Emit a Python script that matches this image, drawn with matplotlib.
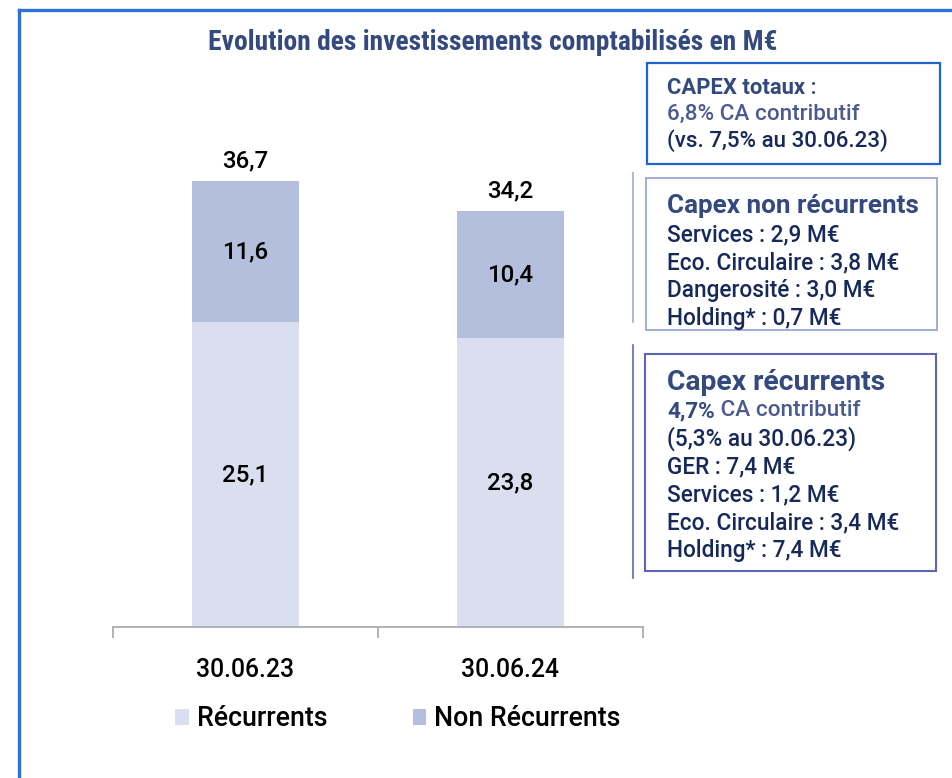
import matplotlib
matplotlib.use("Agg")
import matplotlib.pyplot as plt
from matplotlib import font_manager
from matplotlib.patches import Rectangle
from matplotlib.lines import Line2D

# ---------------- data ----------------
categories = ["30.06.23", "30.06.24"]
recurrents = [25.1, 23.8]
non_recurrents = [11.6, 10.4]
totals = [36.7, 34.2]
series_names = ["Récurrents", "Non Récurrents"]
title = "Evolution des investissements comptabilisés en M€"

box1_title = "CAPEX totaux"
box1_lines = ["6,8% CA contributif", "(vs. 7,5% au 30.06.23)"]
box2_title = "Capex non récurrents"
box2_lines = ["Services : 2,9 M€", "Eco. Circulaire : 3,8 M€",
              "Dangerosité : 3,0 M€", "Holding* : 0,7 M€"]
box3_title = "Capex récurrents"
box3_pct = "4,7%"
box3_lines = ["(5,3% au 30.06.23)", "GER : 7,4 M€", "Services : 1,2 M€",
              "Eco. Circulaire : 3,4 M€", "Holding* : 7,4 M€"]

# ---------------- style ----------------
avail = {f.name for f in font_manager.fontManager.ttflist}
BODY = "Roboto" if "Roboto" in avail else "DejaVu Sans"
COND = "Roboto Condensed" if "Roboto Condensed" in avail else BODY
plt.rcParams['font.family'] = [BODY, 'DejaVu Sans']
plt.rcParams['font.weight'] = 'medium'
MW = 'medium'

C_REC = "#D9DFEF"
C_NREC = "#B4BFDD"
C_TITLE = "#344A7E"
C_DARK = "#16295A"
C_MID = "#4B5B8E"

W, H = 953, 778
fig = plt.figure(figsize=(W / 100, H / 100), dpi=100)


def fx(x):
    return x / W


def fy(y):
    return 1 - y / H


# outer frame
fig.add_artist(Line2D([fx(19), fx(19)], [fy(10), fy(778)], color="#2F6FD8", lw=2.4))
fig.add_artist(Line2D([fx(19), fx(953)], [fy(10), fy(10)], color="#2F6FD8", lw=2.4))

# ---------------- bar chart ----------------
ax = fig.add_axes([fx(113), fy(627), (643 - 113) / W, (627 - 60) / H])
px_per_unit = (627 - 181) / totals[0]
ax.set_ylim(0, (627 - 60) / px_per_unit)
ax.set_xlim(-0.5, 1.5)
x = list(range(len(categories)))
bw = 107 / 265
ax.bar(x, recurrents, width=bw, color=C_REC, label=series_names[0])
ax.bar(x, non_recurrents, width=bw, bottom=recurrents, color=C_NREC, label=series_names[1])

VS = 17.3
for i in x:
    ax.text(i, recurrents[i] / 2, f"{recurrents[i]:.1f}".replace(".", ","),
            ha="center", va="center", fontsize=VS, color="black", fontweight=MW)
    ax.text(i, recurrents[i] + non_recurrents[i] / 2,
            f"{non_recurrents[i]:.1f}".replace(".", ","),
            ha="center", va="center", fontsize=VS, color="black", fontweight=MW)
    ax.text(i, totals[i] + 0.7, f"{totals[i]:.1f}".replace(".", ","),
            ha="center", va="bottom", fontsize=VS, color="black", fontweight=MW)

for s in ["top", "left", "right"]:
    ax.spines[s].set_visible(False)
ax.spines["bottom"].set_color("#A6A6A6")
ax.spines["bottom"].set_linewidth(1.2)
ax.set_yticks([])
ax.set_xticks(x)
ax.set_xticklabels(categories, fontsize=17.8, color="black", fontweight=MW)
ax.tick_params(axis="x", which="major", length=0, pad=22)
ax.set_xticks([-0.5, 0.5, 1.5], minor=True)
ax.tick_params(axis="x", which="minor", length=8, color="#A6A6A6", width=1.2)
ax.patch.set_alpha(0)

leg = fig.legend(loc="center", bbox_to_anchor=(fx(398), fy(719)), ncol=2,
                 frameon=False, prop={'size': 19.3, 'weight': MW},
                 handlelength=0.5, handleheight=0.5,
                 handletextpad=0.3, columnspacing=3.2)

fig.text(fx(493), fy(42), title, ha="center", va="center", family=[COND, 'DejaVu Sans'],
         fontsize=19.8, fontweight="bold", color=C_TITLE)

# ---------------- right boxes ----------------
def box(x0, y0, x1, y1, color, lw):
    fig.add_artist(Rectangle((fx(x0), fy(y1)), fx(x1) - fx(x0), fy(y0) - fy(y1),
                             transform=fig.transFigure, fill=False,
                             edgecolor=color, linewidth=lw))


box(647, 63, 940, 164, "#1F63D0", 1.6)
box(646, 178, 937, 330, "#98A8D6", 1.3)
box(645, 354, 936, 571, "#5D64B5", 1.5)
fig.add_artist(Line2D([fx(633), fx(633)], [fy(173), fy(322)], color="#A0AAD0", lw=1.2))
fig.add_artist(Line2D([fx(633), fx(633)], [fy(345), fy(578)], color="#6068B0", lw=1.2))

renderer = fig.canvas.get_renderer()


def text_pair(x0, y, bold_part, rest, size, c1, c2, size2=None):
    t = fig.text(fx(x0), fy(y), bold_part, ha="left", va="center",
                 fontsize=size, fontweight="bold", color=c1)
    bb = t.get_window_extent(renderer=renderer)
    fig.text(bb.x1 / W, fy(y), rest, ha="left", va="center",
             fontsize=size2 or size, color=c2, fontweight=MW)


BS = 16.3
# box 1
text_pair(667, 88, box1_title, " :", 15.8, C_TITLE, C_TITLE, 16.2)
fig.text(fx(667), fy(114), box1_lines[0], ha="left", va="center", fontsize=16.2,
         color=C_MID, fontweight=MW)
fig.text(fx(667), fy(141), box1_lines[1], ha="left", va="center", fontsize=16.1,
         color=C_DARK, fontweight=MW)

# box 2
fig.text(fx(667), fy(206), box2_title, ha="left", va="center", fontsize=18.7,
         fontweight="bold", color=C_TITLE)
for k, line in enumerate(box2_lines):
    fig.text(fx(667), fy(235 + 27.7 * k), line, ha="left", va="center",
             fontsize=BS, color=C_DARK, fontweight=MW)

# box 3
fig.text(fx(667), fy(382), box3_title, ha="left", va="center", fontsize=20.3,
         fontweight="bold", color=C_TITLE)
text_pair(667, 411, box3_pct, " CA contributif", 16.2, C_TITLE, C_MID)
for k, line in enumerate(box3_lines):
    fig.text(fx(667), fy(439 + 28 * k), line, ha="left", va="center",
             fontsize=BS, color=C_DARK, fontweight=MW)

fig.savefig("out.png", dpi=100)
